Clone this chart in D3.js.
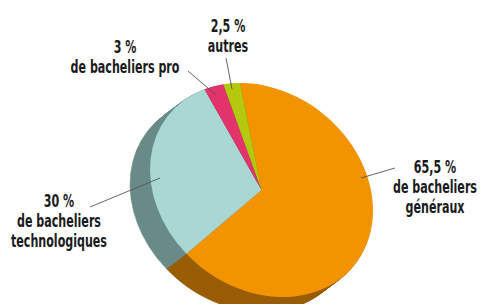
<!DOCTYPE html>
<html>
<head>
<meta charset="utf-8">
<script src="https://cdn.jsdelivr.net/npm/d3@7"></script>
<style>
  body { margin: 0; background: #fff; }
  svg { display: block; }
  text { font-family: "Liberation Sans Narrow", "DejaVu Sans Condensed", sans-serif; font-weight: bold; fill: #1a1a1a; }
</style>
</head>
<body>
<svg width="480" height="304"></svg>
<script>
// data (shares add up to 101 %, as printed)
var categories = ["de bacheliers généraux", "de bacheliers technologiques", "de bacheliers pro", "autres"];
var shares = [65.5, 30, 3, 2.5];
var shareLabels = ["65,5 %", "30 %", "3 %", "2,5 %"];

var topColors  = ["#f29400", "#a8d7d4", "#e2336a", "#b4c80d"];
var sideColors = ["#995d06", "#6a8b88", "#8e1f43", "#6f7c08"];

// label text lines + where they sit
var labelLines = [
  ["65,5 %", "de bacheliers", "généraux"],
  ["30 %", "de bacheliers", "technologiques"],
  ["3 %", "de bacheliers pro"],
  ["2,5 %", "autres"]
];
var labelPos = [[435, 173], [59, 207], [125, 53], [228, 32]];
var leaders = [
  [[395, 168], [361, 178]],
  [[90, 207], [160, 178]],
  [[188, 71], [216, 95]],
  [[226, 58], [232, 89]]
];

var svg = d3.select("svg");
// tilted disc: circle of radius a, squashed to b and turned
var cx = 261.5, cy = 190, a = 119.5, b = 98, tilt = 39;
var depth = {dx: -20, dy: 15, steps: 20};

var start = -44.7 * Math.PI / 180;
var pie = d3.pie().sort(null).startAngle(start).endAngle(start + 2 * Math.PI);
var arcs = pie(shares);
var arc = d3.arc().innerRadius(0).outerRadius(a);

function discTransform(x, y) {
  return "translate(" + x + "," + y + ") rotate(" + tilt + ") scale(1," + (b / a) + ")";
}

// side of the disc: stack of shifted copies
for (var i = depth.steps; i >= 1; i--) {
  var t = i / depth.steps;
  svg.append("g")
    .attr("transform", discTransform(cx + depth.dx * t, cy + depth.dy * t))
    .selectAll("path")
    .data(arcs)
    .enter()
    .append("path")
    .attr("d", arc)
    .attr("fill", function(d, j){ return sideColors[j]; })
    .attr("stroke", function(d, j){ return sideColors[j]; })
    .attr("stroke-width", 0.5);
}

// top face
svg.append("g")
  .attr("transform", discTransform(cx, cy))
  .selectAll("path")
  .data(arcs)
  .enter()
  .append("path")
  .attr("d", arc)
  .attr("fill", function(d, j){ return topColors[j]; });

// leader lines
svg.selectAll("line.leader")
  .data(leaders)
  .enter()
  .append("line")
  .attr("class", "leader")
  .attr("x1", function(d){ return d[0][0]; })
  .attr("y1", function(d){ return d[0][1]; })
  .attr("x2", function(d){ return d[1][0]; })
  .attr("y2", function(d){ return d[1][1]; })
  .attr("stroke", "#555")
  .attr("stroke-width", 0.9);

// labels
var lab = svg.selectAll("g.lab")
  .data(labelLines)
  .enter()
  .append("g")
  .attr("class", "lab");

lab.selectAll("text")
  .data(function(d){ return d; })
  .enter()
  .append("text")
  .attr("x", 0)
  .attr("y", function(d, k){ return k * 20; })
  .attr("text-anchor", "middle")
  .attr("font-size", 18)
  .text(function(d){ return d; });

// squeeze the font so "de bacheliers" is ~84px wide, like the condensed face of the original
var probe = lab.selectAll("text").filter(function(d){ return d == "de bacheliers"; }).node();
var sx = 84 / probe.getComputedTextLength();
lab.attr("transform", function(d, i){
  return "translate(" + labelPos[i][0] + "," + labelPos[i][1] + ") scale(" + sx + ",1)";
});
</script>
</body>
</html>
